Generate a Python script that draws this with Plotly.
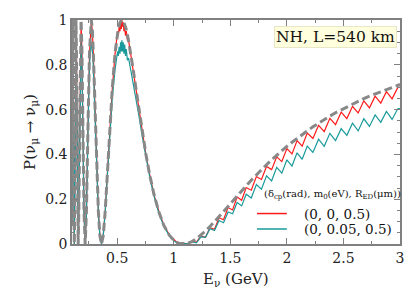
import plotly.graph_objects as go

# ---- standard (dashed gray) curve ----
e_std = [0.1, 0.1031, 0.1056, 0.1082, 0.111, 0.1139, 0.117, 0.1203, 0.1237, 0.1273, 0.1312, 0.1353,
         0.1396, 0.1443, 0.1493, 0.1546, 0.1603, 0.1665, 0.1732, 0.1804, 0.1882, 0.1968, 0.2061, 0.2165,
         0.2278, 0.2405, 0.2546, 0.2706, 0.2793, 0.2886, 0.2986, 0.3092, 0.3207, 0.333, 0.3463, 0.3608,
         0.3764, 0.3935, 0.4123, 0.4329, 0.4557, 0.481, 0.4947, 0.5093, 0.5247, 0.5411, 0.5586, 0.5772,
         0.5971, 0.6184, 0.6413, 0.666, 0.6926, 0.7215, 0.7529, 0.787, 0.8246, 0.866, 0.911, 0.962,
         1.00, 1.04, 1.08, 1.12, 1.16, 1.20, 1.24, 1.28, 1.32, 1.36, 1.40, 1.44, 1.48, 1.52, 1.56, 1.60,
         1.64, 1.685, 1.73, 1.775, 1.82, 1.865, 1.91, 1.955, 2.00, 2.045, 2.09, 2.135, 2.18, 2.23, 2.28,
         2.33, 2.38, 2.43, 2.48, 2.53, 2.58, 2.63, 2.68, 2.73, 2.78, 2.83, 2.88, 2.93, 2.98, 3.00]
p_std = [0.08, 0.5, 0.854, 1.0, 0.854, 0.5, 0.146, 0.0, 0.146, 0.5, 0.854, 1.0,
         0.854, 0.5, 0.146, 0.0, 0.146, 0.5, 0.854, 1.0, 0.854, 0.5, 0.146, 0.0,
         0.146, 0.5, 0.854, 1.0, 0.962, 0.854, 0.691, 0.5, 0.309, 0.146, 0.038, 0.0,
         0.038, 0.146, 0.309, 0.5, 0.691, 0.854, 0.916, 0.962, 0.990, 1.0, 0.990, 0.962,
         0.916, 0.854, 0.778, 0.691, 0.598, 0.5, 0.402, 0.309, 0.222, 0.146, 0.084, 0.038,
         0.017, 0.004, 0.000, 0.003, 0.011, 0.024, 0.040, 0.058, 0.078, 0.099, 0.122, 0.145, 0.168, 0.192, 0.215, 0.238,
         0.260, 0.285, 0.309, 0.332, 0.354, 0.376, 0.397, 0.416, 0.436, 0.454, 0.472, 0.489, 0.505, 0.523, 0.540,
         0.556, 0.571, 0.586, 0.599, 0.613, 0.625, 0.637, 0.649, 0.660, 0.670, 0.681, 0.690, 0.700, 0.708, 0.712]

# ---- (0, 0, 0.5) red curve ----
e_red = [0.1, 0.1031, 0.1056, 0.1082, 0.111, 0.1139, 0.117, 0.1203, 0.1237, 0.1273, 0.1312, 0.1353,
         0.1396, 0.1443, 0.1493, 0.1546, 0.1603, 0.1665, 0.1732, 0.1804, 0.1882, 0.1968, 0.2061, 0.2165,
         0.2278, 0.2405, 0.2546, 0.2706, 0.2793, 0.2886, 0.2986, 0.3092, 0.3207, 0.333, 0.3463, 0.3608,
         0.3764, 0.3935, 0.4123, 0.4329, 0.4557, 0.481,
         0.4947, 0.503, 0.510, 0.517, 0.524, 0.530, 0.536, 0.541, 0.547, 0.553, 0.559, 0.566, 0.573,
         0.580, 0.590, 0.600, 0.6184, 0.6413, 0.666, 0.6926, 0.7215, 0.7529, 0.787, 0.8246, 0.866, 0.911, 0.962,
         1.00, 1.04, 1.08, 1.12, 1.16, 1.20, 1.24, 1.28, 1.32, 1.36, 1.40, 1.44, 1.48, 1.52, 1.56, 1.60,
         1.64, 1.685, 1.73, 1.775, 1.82, 1.865, 1.91, 1.955, 2.00, 2.045, 2.09, 2.135, 2.18, 2.23, 2.28,
         2.33, 2.38, 2.43, 2.48, 2.53, 2.58, 2.63, 2.68, 2.73, 2.78, 2.83, 2.88, 2.93, 2.98, 3.00]
p_red = [0.08, 0.5, 0.85, 0.99, 0.85, 0.5, 0.146, 0.0, 0.146, 0.5, 0.85, 0.99,
         0.85, 0.5, 0.146, 0.0, 0.146, 0.5, 0.85, 0.99, 0.85, 0.5, 0.146, 0.0,
         0.146, 0.5, 0.85, 0.99, 0.955, 0.85, 0.69, 0.5, 0.31, 0.146, 0.038, 0.0,
         0.038, 0.146, 0.31, 0.5, 0.69, 0.85,
         0.91, 0.95, 0.93, 0.97, 0.95, 0.99, 0.96, 1.00, 0.97, 0.99, 0.95, 0.97, 0.93,
         0.95, 0.91, 0.91, 0.85, 0.77, 0.69, 0.60, 0.50, 0.40, 0.31, 0.22, 0.15, 0.085, 0.04,
         0.02, 0.0, 0.005, 0.0, 0.012, 0.008, 0.036, 0.030, 0.073, 0.066, 0.117, 0.108, 0.163, 0.152, 0.210, 0.195,
         0.252, 0.240, 0.301, 0.288, 0.346, 0.332, 0.389, 0.368, 0.426, 0.402, 0.462, 0.437, 0.495, 0.471, 0.530,
         0.502, 0.561, 0.533, 0.589, 0.560, 0.615, 0.585, 0.639, 0.608, 0.660, 0.629, 0.680, 0.648, 0.698, 0.700]

# ---- (0, 0.05, 0.5) teal curve ----
e_teal = list(e_red)
p_teal = [0.08, 0.48, 0.80, 0.92, 0.80, 0.48, 0.14, 0.0, 0.14, 0.48, 0.80, 0.91,
          0.80, 0.48, 0.14, 0.0, 0.14, 0.48, 0.80, 0.90, 0.80, 0.48, 0.14, 0.0,
          0.14, 0.48, 0.80, 0.90, 0.87, 0.79, 0.65, 0.48, 0.30, 0.14, 0.04, 0.0,
          0.04, 0.14, 0.30, 0.48, 0.65, 0.78,
          0.82, 0.86, 0.84, 0.88, 0.85, 0.90, 0.86, 0.91, 0.86, 0.90, 0.85, 0.89, 0.84,
          0.87, 0.82, 0.83, 0.78, 0.72, 0.65, 0.57, 0.48, 0.39, 0.30, 0.215, 0.14, 0.08, 0.035,
          0.015, 0.0, 0.004, 0.0, 0.010, 0.005, 0.032, 0.030, 0.068, 0.060, 0.105, 0.095, 0.143, 0.135, 0.185, 0.170,
          0.222, 0.205, 0.265, 0.245, 0.304, 0.282, 0.342, 0.316, 0.376, 0.348, 0.407, 0.378, 0.437, 0.409, 0.468,
          0.436, 0.494, 0.462, 0.515, 0.485, 0.539, 0.505, 0.559, 0.525, 0.576, 0.543, 0.592, 0.556, 0.604, 0.605]

x_ticks = [0.5, 1, 1.5, 2, 2.5, 3]
x_labels = ["0.5", "1", "1.5", "2", "2.5", "3"]
y_ticks = [0, 0.2, 0.4, 0.6, 0.8, 1]
y_labels = ["0", "0.2", "0.4", "0.6", "0.8", "1"]

series_names = ["(0, 0, 0.5)", "(0, 0.05, 0.5)"]
series_colors = ["#ff1a1a", "#1a9a9a"]
legend_title = "(δ<sub>cp</sub>(rad), m<sub>0</sub>(eV), R<sub>ED</sub>(μm))"

FONT = "DejaVu Serif"
AX = "#808080"

fig = go.Figure()
fig.add_trace(go.Scatter(x=e_red, y=p_red, mode="lines", name=series_names[0], showlegend=False,
                         line=dict(color=series_colors[0], width=1.2)))
fig.add_trace(go.Scatter(x=e_teal, y=p_teal, mode="lines", name=series_names[1], showlegend=False,
                         line=dict(color=series_colors[1], width=1.2)))
fig.add_trace(go.Scatter(x=e_std, y=p_std, mode="lines", showlegend=False,
                         line=dict(color="#888888", width=3, dash="8px,4px")))

axis_common = dict(showline=True, linecolor=AX, linewidth=1.5, mirror="ticks",
                   ticks="inside", tickcolor=AX, ticklen=6, tickwidth=1,
                   showgrid=False, zeroline=False, automargin=False,
                   tickfont=dict(family=FONT, size=14, color="#222"))
fig.update_xaxes(range=[0.1, 3], tickvals=x_ticks, ticktext=x_labels,
                 minor=dict(ticks="inside", dtick=0.25, tick0=0, ticklen=3, tickcolor=AX),
                 **axis_common)
fig.update_yaxes(range=[0, 1], tickvals=y_ticks, ticktext=y_labels,
                 minor=dict(ticks="inside", dtick=0.05, tick0=0, ticklen=3, tickcolor=AX),
                 title=dict(text="P(ν<sub>μ</sub> → ν<sub>μ</sub>)", font=dict(family=FONT, size=15, color="#222"), standoff=6),
                 **axis_common)

# x-axis title placed explicitly
fig.add_annotation(text="E<sub>ν</sub> (GeV)", xref="paper", yref="paper", x=0.5, y=-0.16,
                   xanchor="center", yanchor="middle", showarrow=False,
                   font=dict(family=FONT, size=15, color="#222"))

fig.add_annotation(text="NH, L=540 km", xref="paper", yref="paper", x=0.99, y=0.975,
                   xanchor="right", yanchor="top", showarrow=False,
                   font=dict(family=FONT, size=15.5, color="#111"),
                   bgcolor="#ffffdd", bordercolor="#e8e8c8", borderwidth=1, borderpad=1)

# hand-placed legend (compact spacing as in the reference)
fig.add_annotation(text=legend_title, xref="paper", yref="paper", x=0.58, y=0.222,
                   xanchor="left", yanchor="middle", showarrow=False,
                   font=dict(family=FONT, size=10, color="#111"))
leg_y = [0.136, 0.067]
for name, col, ly in zip(series_names, series_colors, leg_y):
    fig.add_shape(type="line", xref="paper", yref="paper", x0=0.564, x1=0.655, y0=ly, y1=ly,
                  line=dict(color=col, width=1.5))
    fig.add_annotation(text=name, xref="paper", yref="paper", x=0.7, y=ly,
                       xanchor="left", yanchor="middle", showarrow=False,
                       font=dict(family=FONT, size=13.5, color="#111"))

fig.update_layout(
    width=407, height=294,
    margin=dict(l=72, r=7, t=20, b=50),
    paper_bgcolor="white", plot_bgcolor="white",
    showlegend=False,
)

fig.write_html("out.html", config={"displayModeBar": False},
               post_script="document.body.style.margin='0';")
